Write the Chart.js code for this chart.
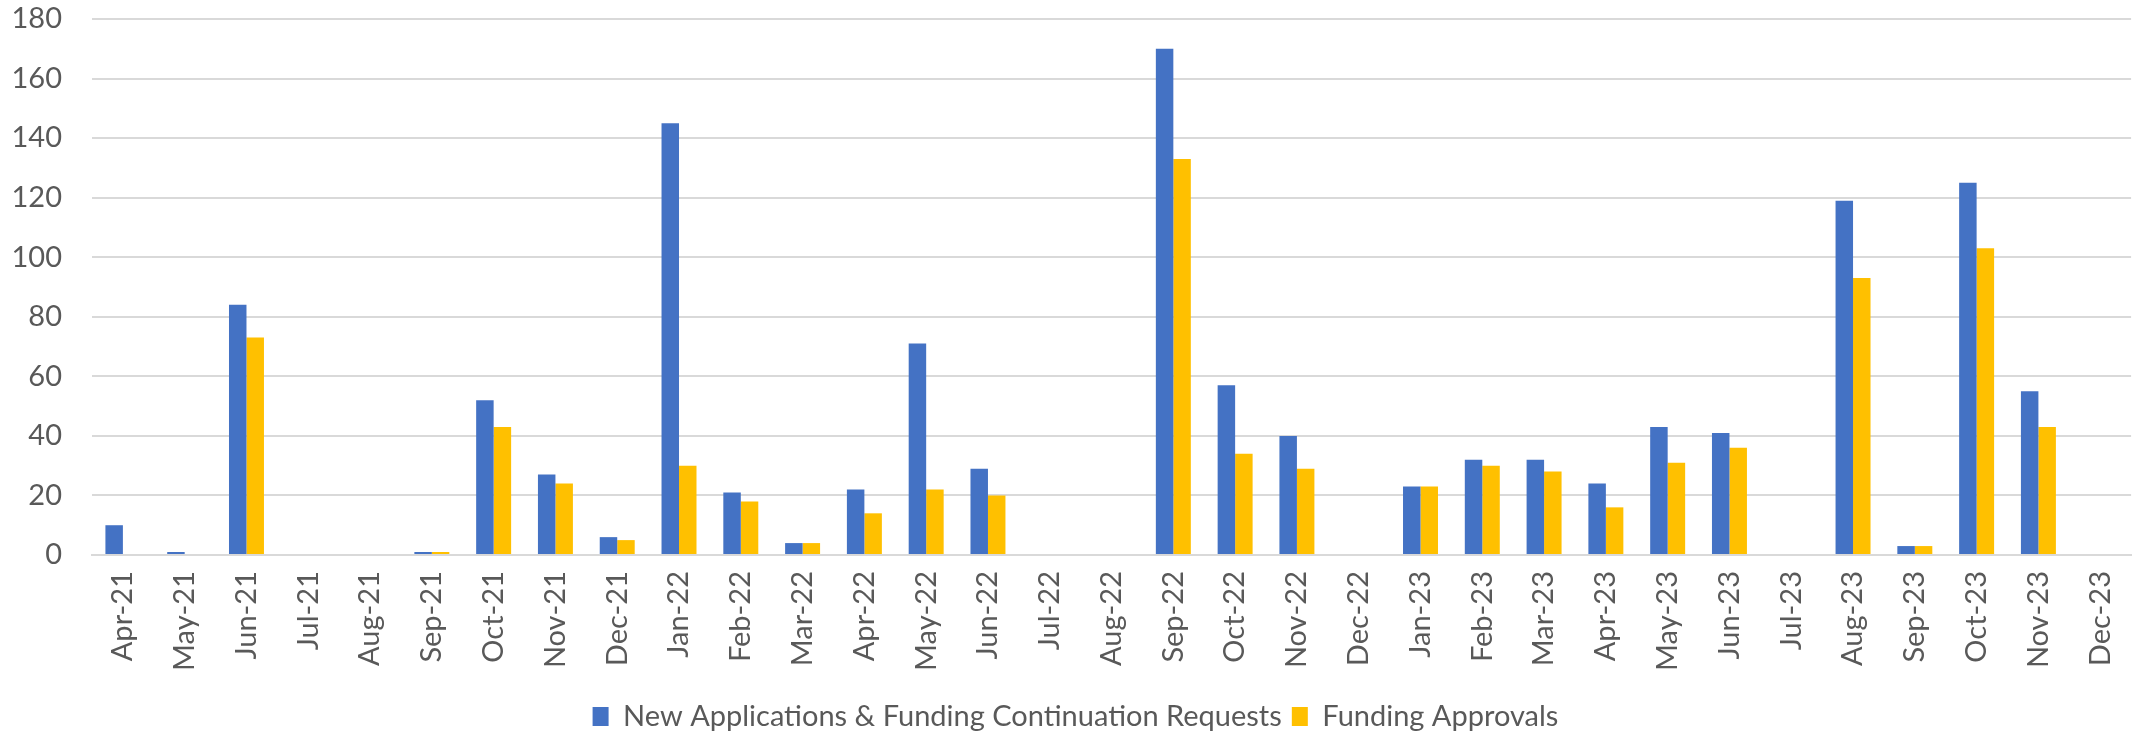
<!DOCTYPE html>
<html>
<head>
<meta charset="utf-8">
<script src="https://cdn.jsdelivr.net/npm/chart.js@4"></script>
<style>
  html, body { margin: 0; padding: 0; background: #fff; }
  #wrap { width: 2151px; height: 734px; }
</style>
</head>
<body>
<div id="wrap"><canvas id="myChart" width="2151" height="734"></canvas></div>
<script>
const months = ['Apr-21', 'May-21', 'Jun-21', 'Jul-21', 'Aug-21', 'Sep-21', 'Oct-21', 'Nov-21', 'Dec-21',
    'Jan-22', 'Feb-22', 'Mar-22', 'Apr-22', 'May-22', 'Jun-22', 'Jul-22', 'Aug-22', 'Sep-22', 'Oct-22', 'Nov-22', 'Dec-22',
    'Jan-23', 'Feb-23', 'Mar-23', 'Apr-23', 'May-23', 'Jun-23', 'Jul-23', 'Aug-23', 'Sep-23', 'Oct-23', 'Nov-23', 'Dec-23'];

const requests = [10, 1, 84, 0, 0, 1, 52, 27, 6,
    145, 21, 4, 22, 71, 29, 0, 0, 170, 57, 40, 0,
    23, 32, 32, 24, 43, 41, 0, 119, 3, 125, 55, 0];

const approvals = [0, 0, 73, 0, 0, 1, 43, 24, 5,
    30, 18, 4, 14, 22, 20, 0, 0, 133, 34, 29, 0,
    23, 30, 28, 16, 31, 36, 0, 93, 3, 103, 43, 0];

const yTicks = [0, 20, 40, 60, 80, 100, 120, 140, 160, 180];

const font = { family: 'Lato', size: 29 };
const textColor = '#595959';
const gridColor = '#D9D9D9';

const ctx = document.getElementById('myChart').getContext('2d');

new Chart(ctx, {
    type: 'bar',
    data: {
        labels: months,
        datasets: [{
            label: 'New Applications & Funding Continuation Requests',
            data: requests,
            backgroundColor: '#4472C4',
            borderWidth: 0
        }, {
            label: 'Funding Approvals',
            data: approvals,
            backgroundColor: '#FFC000',
            borderWidth: 0
        }]
    },
    options: {
        responsive: false,
        animation: false,
        categoryPercentage: 0.566,
        barPercentage: 1,
        layout: {
            padding: { top: 19, right: 0, bottom: -7, left: 0 }
        },
        scales: {
            y: {
                min: 0,
                max: 180,
                afterBuildTicks: (scale) => {
                    scale.ticks = yTicks.map(v => ({ value: v }));
                },
                afterFit: (scale) => {
                    scale.width = 92;
                    // keep the top gridline where the reference has it
                    scale.paddingTop = 0;
                    scale.paddingBottom = 0;
                },
                ticks: {
                    padding: 30,
                    color: textColor,
                    font: font
                },
                grid: {
                    color: gridColor,
                    lineWidth: 2,
                    drawTicks: false
                },
                border: { display: false }
            },
            x: {
                afterFit: (scale) => { scale.height = 137; },
                ticks: {
                    minRotation: 90,
                    maxRotation: 90,
                    autoSkip: false,
                    padding: 16,
                    color: textColor,
                    font: font
                },
                grid: {
                    display: false,
                    drawTicks: false
                },
                border: {
                    display: true,
                    color: gridColor,
                    width: 2
                }
            }
        },
        plugins: {
            legend: {
                position: 'bottom',
                labels: {
                    color: textColor,
                    font: font,
                    boxWidth: 16,
                    boxHeight: 19,
                    padding: 10
                }
            },
            tooltip: { enabled: false }
        }
    }
});
</script>
</body>
</html>
